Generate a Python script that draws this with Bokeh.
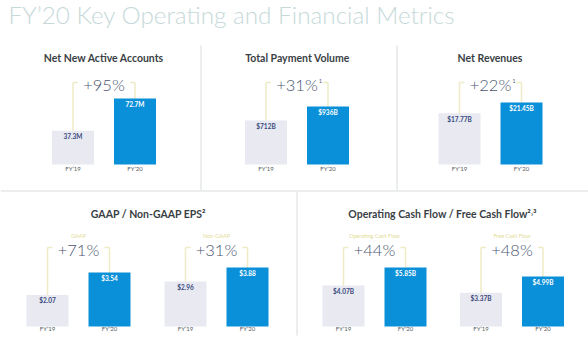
from bokeh.plotting import figure
from bokeh.models import Range1d, ColumnDataSource
from bokeh.core.properties import value
from bokeh.embed import file_html
from bokeh.resources import INLINE

# ---------------- data ----------------
title = "FY\u201920 Key Operating and Financial Metrics"
panel_titles = ["Net New Active Accounts", "Total Payment Volume", "Net Revenues",
                "GAAP / Non-GAAP EPS\u00b2", "Operating Cash Flow / Free Cash Flow\u00b2\u02d2\u00b3"]
categories = ["FY\u201919", "FY\u201920"]
metrics = ["Net New Active Accounts", "Total Payment Volume", "Net Revenues",
           "GAAP EPS", "Non-GAAP EPS", "Operating Cash Flow", "Free Cash Flow"]
fy19 = [37.3, 712, 17.77, 2.07, 2.96, 4.07, 3.37]
fy20 = [72.7, 936, 21.45, 3.54, 3.88, 5.85, 4.99]
fy19_labels = ["37.3M", "$712B", "$17.77B", "$2.07", "$2.96", "$4.07B", "$3.37B"]
fy20_labels = ["72.7M", "$936B", "$21.45B", "$3.54", "$3.88", "$5.85B", "$4.99B"]
growth = ["+95%", "+31%", "+22%", "+71%", "+31%", "+44%", "+48%"]
growth_notes = ["", "1", "1", "", "", "", ""]
sub_labels = ["", "", "", "GAAP", "Non-GAAP", "Operating Cash Flow", "Free Cash Flow"]

# ---------------- layout (pixels) ----------------
W, H = 588, 344
centers = [103.5, 296.5, 490, 78, 216, 374, 511.5]
rows = [0, 0, 0, 1, 1, 1, 1]
max_h = [66, 58, 62, 54, 59, 59, 50]          # drawn height of the FY'20 bar
baseline = [164, 326]
bracket_y = [82, 247]
pct_base = [92, 257]
cat_base = [171, 331]
sub_base = [0, 238]
half = 31
bar_w = 42
panel_title_x = [103.5, 297, 489.5, 148, 442]
panel_title_y = [62, 62, 62, 218, 218]

BLUE = "#0a90d8"
GRAY = "#e8e9f1"
BRACKET = "#eeebc6"
SEP = "#e6e7e8"
K = 0.45  # baseline correction factor (fraction of font size)

p = figure(width=W, height=H, x_range=Range1d(0, W), y_range=Range1d(H, 0),
           output_backend="svg", toolbar_location=None, min_border=0,
           x_axis_location=None, y_axis_location=None, outline_line_color=None,
           background_fill_color="white", border_fill_color="white")
p.grid.visible = False


def txt(x, y, t, size, **kw):
    p.text(x=x, y=[v - K * size for v in y], text=t, text_font_size=f"{size}px",
           text_baseline="alphabetic", **kw)


# separators
p.segment(x0=[0, 200.5, 396.5, 296.5], y0=[190.5, 45, 45, 191],
          x1=[W, 200.5, 396.5, 296.5], y1=[190.5, 190, 190, 335],
          line_color=SEP, line_width=1.5)

# title
txt([8], [24.5], [title], 24.3, text_font=value("Lato Light"),
    text_color="#c6d9d9", text_align="left")

# panel titles
txt(panel_title_x, panel_title_y, panel_titles, 10.5, text_font=value("Lato"),
    text_font_style="bold", text_color="#3a3f45", text_align="center")

for i in range(len(metrics)):
    r = rows[i]
    cx = centers[i]
    xs = [cx - half, cx + half]
    # brackets (drawn behind bars)
    p.segment(x0=[xs[0], xs[1], xs[0], xs[1]],
              y0=[baseline[r], baseline[r], bracket_y[r], bracket_y[r]],
              x1=[xs[0], xs[1], xs[0] + 5, xs[1] - 5],
              y1=[bracket_y[r], bracket_y[r], bracket_y[r], bracket_y[r]],
              line_color=BRACKET, line_width=1.5)
    # per-chart value scale: 0 at baseline, FY'20 value at max_h above it
    end = baseline[r] * fy20[i] / max_h[i]
    start = fy20[i] * (baseline[r] - H) / max_h[i]
    rname = f"r{i}"
    p.extra_y_ranges[rname] = Range1d(start, end)
    src = ColumnDataSource(dict(x=xs, top=[fy19[i], fy20[i]],
                                color=[GRAY, BLUE], lab=[fy19_labels[i], fy20_labels[i]],
                                lc=["#3b4a7e", "white"]))
    p.vbar(x="x", top="top", bottom=0, width=bar_w, fill_color="color",
           line_color=None, source=src, y_range_name=rname)
    p.text(x="x", y="top", text="lab", source=src, y_range_name=rname,
           y_offset=9 - K * 6.5, text_font=value("Lato"), text_font_style="bold",
           text_font_size="6.5px", text_color="lc", text_align="center",
           text_baseline="alphabetic")
    # categories
    txt(xs, [cat_base[r]] * 2, categories, 6, text_font=value("Lato"),
        text_color="#555a60", text_align="center")
    # growth
    txt([cx], [pct_base[r]], [growth[i]], 16.5, text_font=value("Lato Light"),
        text_color="#4a5570", text_align="center")
    if growth_notes[i]:
        txt([cx + 22], [pct_base[r] - 9], [growth_notes[i]], 5,
            text_font=value("Lato"), text_color="#4a5570", text_align="left")
    if sub_labels[i]:
        txt([cx], [sub_base[r]], [sub_labels[i]], 5.5, text_font=value("Lato"),
            text_color="#e3dc95", text_align="center")

open("out.html", "w").write(file_html(p, INLINE))
